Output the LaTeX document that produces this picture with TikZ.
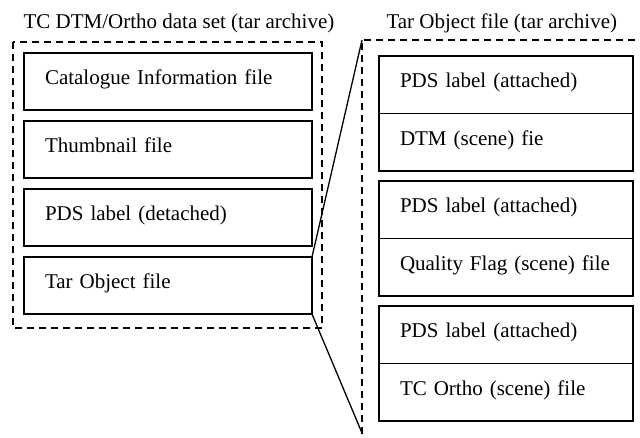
\documentclass[tikz,border=0pt]{standalone}
\usepackage{fontspec}
\setmainfont{Liberation Serif}

\tikzset{
  filebox/.style={draw,line width=1.4pt,anchor=north west,outer sep=0pt,
    inner xsep=21pt,text height=12pt,text depth=6pt,align=left},
  framebox/.style={line width=1.2pt,dash pattern=on 7pt off 5pt},
  link/.style={line width=1.3pt}
}

\begin{document}
\begin{tikzpicture}[x=1pt,y=-1pt,font=\fontsize{21}{25}\selectfont]

  \pgfmathsetmacro\lstep{68}    % pitch of the archive entries
  \pgfmathsetmacro\rstep{125}   % pitch of the label/file pairs
  \pgfmathsetmacro\cellh{57.5}

  \clip (0,0) rectangle (640,437);

% data set archive
  \node[anchor=base west] (settitle) at (20,28) {TC DTM/Ortho data set (tar archive)};
  \draw[framebox] (13,42) rectangle (322,328);
  \node[filebox,text width=246pt,minimum height=57pt] (catinfo) at (24,53) {Catalogue Information file};
  \node[filebox,text width=246pt,minimum height=57pt] (thumb)   at (24,53+\lstep) {Thumbnail file};
  \node[filebox,text width=246pt,minimum height=57pt] (pdsdet)  at (24,53+2*\lstep) {PDS label (detached)};
  \node[filebox,text width=246pt,minimum height=57pt] (tarobj)  at (24,53+3*\lstep) {Tar Object file};

% tar object contents
  \node[anchor=base west] (objtitle) at (383,28) {Tar Object file (tar archive)};
  \draw[framebox] (362,470) -- (362,40) -- (680,40);
  \node[filebox,text width=212pt,minimum height=\cellh] (dtmlbl)  at (379,56) {PDS label (attached)};
  \node[filebox,text width=212pt,minimum height=\cellh] (dtm)     at (379,56+\cellh) {DTM (scene) fie};
  \node[filebox,text width=212pt,minimum height=\cellh] (qflbl)   at (379,56+\rstep) {PDS label (attached)};
  \node[filebox,text width=212pt,minimum height=\cellh] (qflag)   at (379,56+\rstep+\cellh) {Quality Flag (scene) file};
  \node[filebox,text width=212pt,minimum height=\cellh] (ortlbl)  at (379,56+2*\rstep) {PDS label (attached)};
  \node[filebox,text width=212pt,minimum height=\cellh] (ortho)   at (379,56+2*\rstep+\cellh) {TC Ortho (scene) file};

% zoom lines
  \coordinate (objtop) at (362,40);
  \coordinate (objbot) at (362,433);
  \draw[link] (tarobj.north east) -- (objtop);
  \draw[link] (tarobj.south east) -- (objbot);

\end{tikzpicture}
\end{document}
